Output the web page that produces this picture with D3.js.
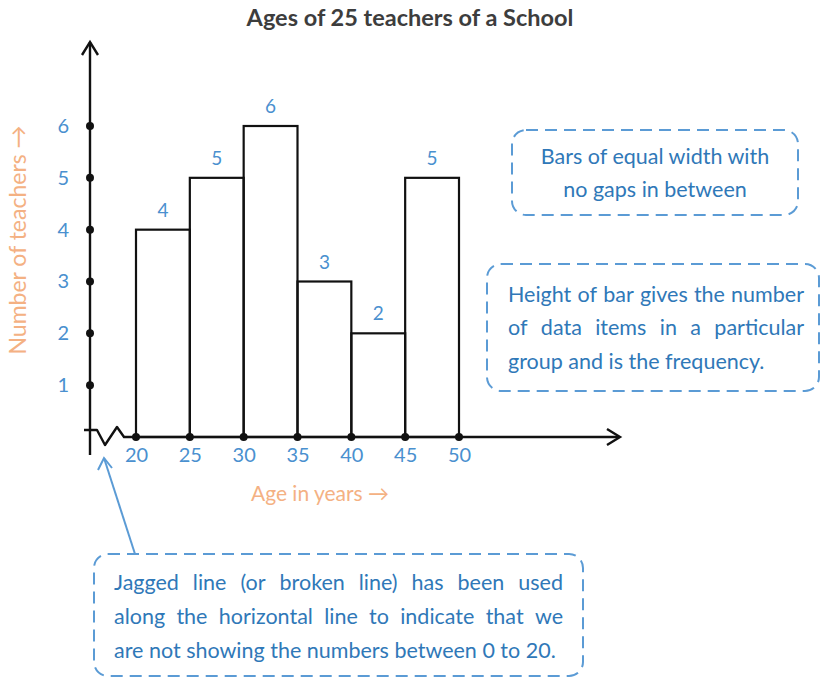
<!DOCTYPE html>
<html>
<head>
<meta charset="utf-8">
<script src="https://cdn.jsdelivr.net/npm/d3@7"></script>
<style>
  body { margin: 0; background: #fff; }
  svg { display: block; font-family: Lato, "Open Sans", sans-serif; }
</style>
</head>
<body>
<svg width="820" height="682"></svg>
<script>
// data
const ageEdges = [20, 25, 30, 35, 40, 45, 50];
const teachers = [4, 5, 6, 3, 2, 5];
const yTicks = [1, 2, 3, 4, 5, 6];
const title = "Ages of 25 teachers of a School";
const xTitle = "Age in years \u2192";
const yTitle = "Number of teachers \u2192";
const note1 = ["Bars of equal width with", "no gaps in between"];
const note2 = ["Height of bar gives the number", "of data items in a particular", "group and is the frequency."];
const note3 = ["Jagged line (or broken line) has been used", "along the horizontal line to indicate that we", "are not showing the numbers between 0 to 20."];

const svg = d3.select("svg");
const blue = "#4a90cf";
const noteBlue = "#2f78b8";
const dashBlue = "#5b9bd5";
const noteSize = 21.5;

const x = d3.scaleLinear().domain([20, 50]).range([136, 459]);
const y = d3.scaleLinear().domain([0, 6]).range([437, 126]);
const y0 = y(0);
const axisX = 90;

// title
svg.append("text")
    .attr("x", 410).attr("y", 26)
    .attr("text-anchor", "middle")
    .attr("font-size", 23.5).attr("font-weight", "bold")
    .attr("fill", "#3d3d3d")
    .text(title);

// bars
const bins = teachers.map((v, i) => ({x0: ageEdges[i], x1: ageEdges[i + 1], v: v}));
svg.append("g").selectAll("rect")
    .data(bins)
    .enter().append("rect")
    .attr("x", d => x(d.x0))
    .attr("y", d => y(d.v))
    .attr("width", d => x(d.x1) - x(d.x0))
    .attr("height", d => y0 - y(d.v))
    .attr("fill", "none")
    .attr("stroke", "#111")
    .attr("stroke-width", 2.2);

svg.append("g").selectAll("text")
    .data(bins)
    .enter().append("text")
    .attr("x", d => (x(d.x0) + x(d.x1)) / 2)
    .attr("y", d => y(d.v) - 13)
    .attr("text-anchor", "middle")
    .attr("font-size", 19)
    .attr("fill", blue)
    .text(d => d.v);

// axis lines with arrows
const line = d3.line();
svg.append("path")
    .attr("d", line([[axisX, 455], [axisX, 42]]))
    .attr("stroke", "#111").attr("stroke-width", 2.4).attr("fill", "none");
svg.append("path")
    .attr("d", line([[axisX - 8, 55], [axisX, 42], [axisX + 8, 55]]))
    .attr("stroke", "#111").attr("stroke-width", 2.4).attr("fill", "none");
// jagged line then horizontal axis
svg.append("path")
    .attr("d", line([[84, y0 - 7], [97, y0 - 7], [105, y0 + 8], [117, y0 - 10], [124, y0], [619, y0]]))
    .attr("stroke", "#111").attr("stroke-width", 2.4).attr("fill", "none").attr("stroke-linejoin", "round");
svg.append("path")
    .attr("d", line([[607, y0 - 8], [620, y0], [607, y0 + 8]]))
    .attr("stroke", "#111").attr("stroke-width", 2.4).attr("fill", "none");

// ticks: dots + labels via d3 axes
const yAxis = d3.axisLeft(y).tickValues(yTicks).tickFormat(d3.format("d")).tickSize(0).tickPadding(21);
const gy = svg.append("g").attr("transform", `translate(${axisX},0)`).call(yAxis);
gy.select(".domain").remove();
gy.selectAll("text").attr("font-size", 20).attr("fill", blue).attr("font-family", "Lato, sans-serif");

const xAxis = d3.axisBottom(x).tickValues(ageEdges).tickFormat(d3.format("d")).tickSize(0).tickPadding(11);
const gx = svg.append("g").attr("transform", `translate(0,${y0})`).call(xAxis);
gx.select(".domain").remove();
gx.selectAll("text").attr("font-size", 20).attr("fill", blue).attr("font-family", "Lato, sans-serif");

svg.append("g").selectAll("circle")
    .data(yTicks)
    .enter().append("circle")
    .attr("cx", axisX).attr("cy", d => y(d)).attr("r", 4).attr("fill", "#111");
svg.append("g").selectAll("circle")
    .data(ageEdges)
    .enter().append("circle")
    .attr("cx", d => x(d)).attr("cy", y0).attr("r", 4).attr("fill", "#111");

// axis titles
svg.append("text")
    .attr("transform", "translate(26,240) rotate(-90)")
    .attr("text-anchor", "middle")
    .attr("font-size", 23).attr("fill", "#f4b183")
    .text(yTitle);
svg.append("text")
    .attr("x", 320).attr("y", 501)
    .attr("text-anchor", "middle")
    .attr("font-size", 21).attr("fill", "#f4b183")
    .text(xTitle);

// notes
function noteBox(x0, y0b, w, h) {
    svg.append("rect")
        .attr("x", x0).attr("y", y0b).attr("width", w).attr("height", h)
        .attr("rx", 14).attr("ry", 14)
        .attr("fill", "none").attr("stroke", dashBlue)
        .attr("stroke-width", 2).attr("stroke-dasharray", "12,7");
}

function centeredLines(lines, cx, ys) {
    lines.forEach((t, i) => {
        svg.append("text")
            .attr("x", cx).attr("y", ys[i])
            .attr("text-anchor", "middle")
            .attr("font-size", noteSize).attr("fill", noteBlue)
            .text(t);
    });
}

// justified lines: spread words between left and right, last line left aligned
function justifiedLines(lines, left, right, ys) {
    lines.forEach((t, i) => {
        const words = t.split(" ");
        const g = svg.append("g");
        const nodes = words.map(w => g.append("text")
            .attr("y", ys[i]).attr("font-size", noteSize).attr("fill", noteBlue).text(w));
        const widths = nodes.map(n => n.node().getComputedTextLength());
        const total = d3.sum(widths);
        const last = i === lines.length - 1;
        const space = last ? 5.5 : (right - left - total) / (words.length - 1);
        let cx = left;
        nodes.forEach((n, k) => {
            n.attr("x", cx);
            cx += widths[k] + space;
        });
    });
}

noteBox(512, 130, 286, 85);
centeredLines(note1, 655, [164, 197]);

noteBox(487, 264, 332, 127);
justifiedLines(note2, 508, 804, [302, 335, 369]);

noteBox(94, 554, 489, 122);
justifiedLines(note3, 114, 563, [590, 624, 658]);

// pointer arrow to jagged line
svg.append("path")
    .attr("d", line([[135, 554], [104, 458]]))
    .attr("stroke", dashBlue).attr("stroke-width", 2).attr("fill", "none");
svg.append("path")
    .attr("d", line([[98, 470], [104, 458], [112, 468]]))
    .attr("stroke", dashBlue).attr("stroke-width", 2).attr("fill", "none");
</script>
</body>
</html>
